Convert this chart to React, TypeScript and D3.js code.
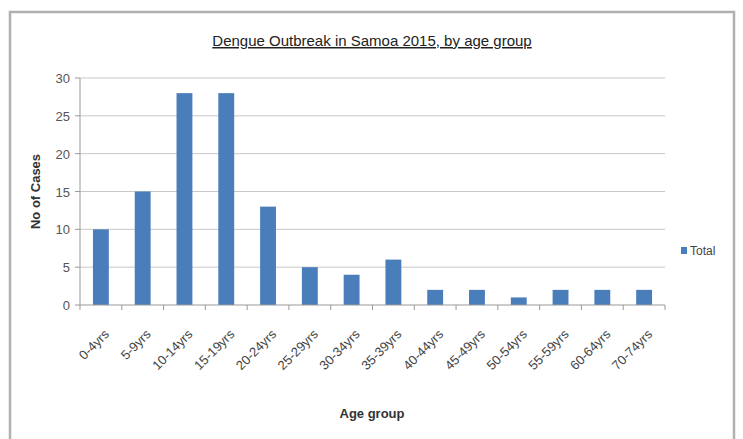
import React from "react";
import * as d3 from "d3";

const categories = ["0-4yrs","5-9yrs","10-14yrs","15-19yrs","20-24yrs","25-29yrs","30-34yrs","35-39yrs","40-44yrs","45-49yrs","50-54yrs","55-59yrs","60-64yrs","70-74yrs"];
const totals = [10, 15, 28, 28, 13, 5, 4, 6, 2, 2, 1, 2, 2, 2];
const yTicks = [0, 5, 10, 15, 20, 25, 30];

const W = 743, H = 439;
const plot = { left: 80, right: 665, top: 78, bottom: 305 };
const FONT = "'Liberation Sans Narrow', 'Liberation Sans', Arial, sans-serif";
const BAR = "#4a7ebb";

export default function App() {
  const x = d3.scaleBand<string>().domain(categories).range([plot.left, plot.right]).paddingInner(0.62).paddingOuter(0.31);
  const y = d3.scaleLinear().domain([0, 30]).range([plot.bottom, plot.top]);
  const step = x.step();
  const bandStarts = d3.range(categories.length + 1).map(i => plot.left + i * step);
  return (
    <div style={{ position: "absolute", left: 0, top: 0 }}>
      <svg width={W} height={H} style={{ display: "block", background: "#fff" }}>
        <rect x={10} y={12} width={724} height={430} fill="#fff" stroke="#b0b0b0" strokeWidth={2.5} />
        <text x={372} y={46} textAnchor="middle" fontFamily={FONT} fontSize={15} fill="#222" textDecoration="underline">Dengue Outbreak in Samoa 2015, by age group</text>
        {yTicks.map(t => (
          <g key={t}>
            {t > 0 && <line x1={plot.left} x2={plot.right} y1={y(t)} y2={y(t)} stroke="#c8c8c8" strokeWidth={1} />}
            <line x1={plot.left - 5} x2={plot.left} y1={y(t)} y2={y(t)} stroke="#999" />
            <text x={plot.left - 10} y={y(t) + 5} textAnchor="end" fontFamily={FONT} fontSize={13} fill="#555">{t}</text>
          </g>
        ))}
        <line x1={plot.left} x2={plot.left} y1={plot.top} y2={plot.bottom} stroke="#999" />
        {categories.map((c, i) => (
          <rect key={c} x={x(c)} y={y(totals[i])} width={x.bandwidth()} height={plot.bottom - y(totals[i])} fill={BAR} />
        ))}
        <line x1={plot.left} x2={plot.right} y1={plot.bottom} y2={plot.bottom} stroke="#999" />
        {bandStarts.map((bx, i) => (
          <line key={i} x1={bx} x2={bx} y1={plot.bottom} y2={plot.bottom + 5} stroke="#999" />
        ))}
        {categories.map(c => {
          const cx = (x(c) as number) + x.bandwidth() / 2 + 9;
          const cy = plot.bottom + 30;
          return (
            <text key={c} x={cx} y={cy} transform={`rotate(-45 ${cx} ${cy})`} textAnchor="end" fontFamily={FONT} fontSize={13} fill="#444">{c}</text>
          );
        })}
        <text transform={`translate(40 ${(plot.top + plot.bottom) / 2}) rotate(-90)`} textAnchor="middle" fontFamily={FONT} fontSize={13} fontWeight="bold" fill="#333">No of Cases</text>
        <text x={372} y={418} textAnchor="middle" fontFamily={FONT} fontSize={13} fontWeight="bold" fill="#333">Age group</text>
        <rect x={681} y={247} width={6} height={7} fill={BAR} />
        <text x={690} y={255} fontFamily={FONT} fontSize={12} fill="#444">Total</text>
      </svg>
    </div>
  );
}
